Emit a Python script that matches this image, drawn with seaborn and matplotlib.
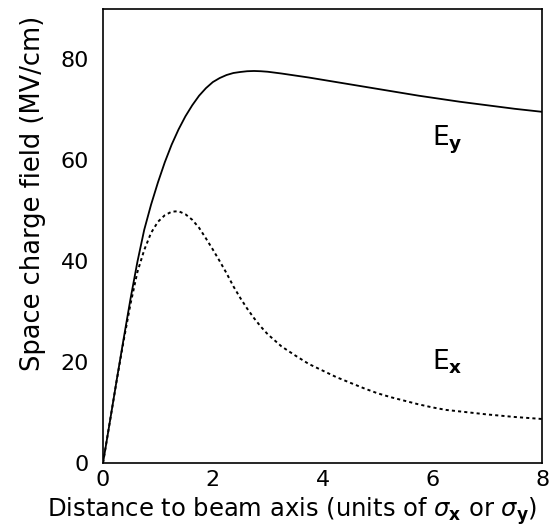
import matplotlib
matplotlib.use("Agg")
import matplotlib.pyplot as plt
import seaborn as sns
import pandas as pd

# Data
distance = [0, 0.125, 0.25, 0.375, 0.5, 0.625, 0.75, 0.875, 1.0, 1.125, 1.25,
            1.375, 1.5, 1.625, 1.75, 1.875, 2.0, 2.125, 2.25, 2.375, 2.5,
            2.625, 2.75, 2.875, 3.0, 3.25, 3.5, 3.75, 4.0, 4.25, 4.5, 4.75,
            5.0, 5.25, 5.5, 5.75, 6.0, 6.25, 6.5, 6.75, 7.0, 7.25, 7.5, 7.75,
            8.0]
e_y = [0, 8.2, 16.5, 24.6, 32.5, 39.8, 46.2, 51.2, 55.6, 59.6, 63.1,
       66.1, 68.7, 70.9, 72.8, 74.3, 75.5, 76.3, 76.9, 77.3, 77.5,
       77.65, 77.7, 77.65, 77.55, 77.2, 76.8, 76.4, 75.95, 75.5, 75.05, 74.6,
       74.15, 73.7, 73.25, 72.8, 72.4, 72.0, 71.6, 71.25, 70.9, 70.55, 70.2,
       69.9, 69.6]
e_x = [0, 8.2, 16.4, 24.2, 31.5, 37.8, 42.2, 45.6, 47.8, 49.1, 49.8,
       49.9, 49.3, 48.2, 46.6, 44.5, 42.3, 40.0, 37.6, 35.0, 32.7,
       30.6, 28.7, 27.0, 25.5, 23.1, 21.3, 19.6, 18.3, 17.0, 15.9, 14.8,
       13.8, 13.0, 12.3, 11.6, 11.0, 10.5, 10.2, 9.9, 9.6, 9.35, 9.1,
       8.9, 8.7]
x_ticks = [0, 2, 4, 6, 8]
y_ticks = [0, 20, 40, 60, 80]

sns.set_style("white")
plt.rcParams['font.family'] = ['DejaVu Sans']
plt.rcParams['mathtext.fontset'] = 'dejavusans'
plt.rcParams['text.color'] = 'black'
plt.rcParams['axes.labelcolor'] = 'black'

df = pd.DataFrame({"x": distance, "Ey": e_y, "Ex": e_x})

fig = plt.figure(figsize=(5.51, 5.26), dpi=100)
ax = fig.add_axes([0.187, 0.120, 0.797, 0.863])

sns.lineplot(data=df, x="x", y="Ey", ax=ax, color="black", linewidth=1.3)
sns.lineplot(data=df, x="x", y="Ex", ax=ax, color="black", linewidth=1.4,
             linestyle=(0, (1.6, 1.6)))

ax.set_xlim(0, 8)
ax.set_ylim(0, 90)
ax.set_xticks(x_ticks)
ax.set_yticks(y_ticks)
ax.tick_params(direction="in", length=6, width=1, labelsize=16, colors="black")
ax.tick_params(axis="x", pad=5)
ax.tick_params(axis="y", pad=10)
for s in ax.spines.values():
    s.set_color("black")
    s.set_linewidth(1.2)

ax.set_xlabel(r"Distance to beam axis (units of $\sigma_\mathbf{x}$ or $\sigma_\mathbf{y}$)",
              fontsize=17.5)
ax.set_ylabel("Space charge field (MV/cm)", fontsize=18.5)
ax.xaxis.set_label_coords(0.43, -0.072)
ax.yaxis.set_label_coords(-0.13, 0.593)

ax.text(6.0, 64, r"E$_\mathbf{y}$", fontsize=19, ha="left", va="center")
ax.text(6.0, 20, r"E$_\mathbf{x}$", fontsize=19, ha="left", va="center")

fig.savefig("out.png", dpi=100)
